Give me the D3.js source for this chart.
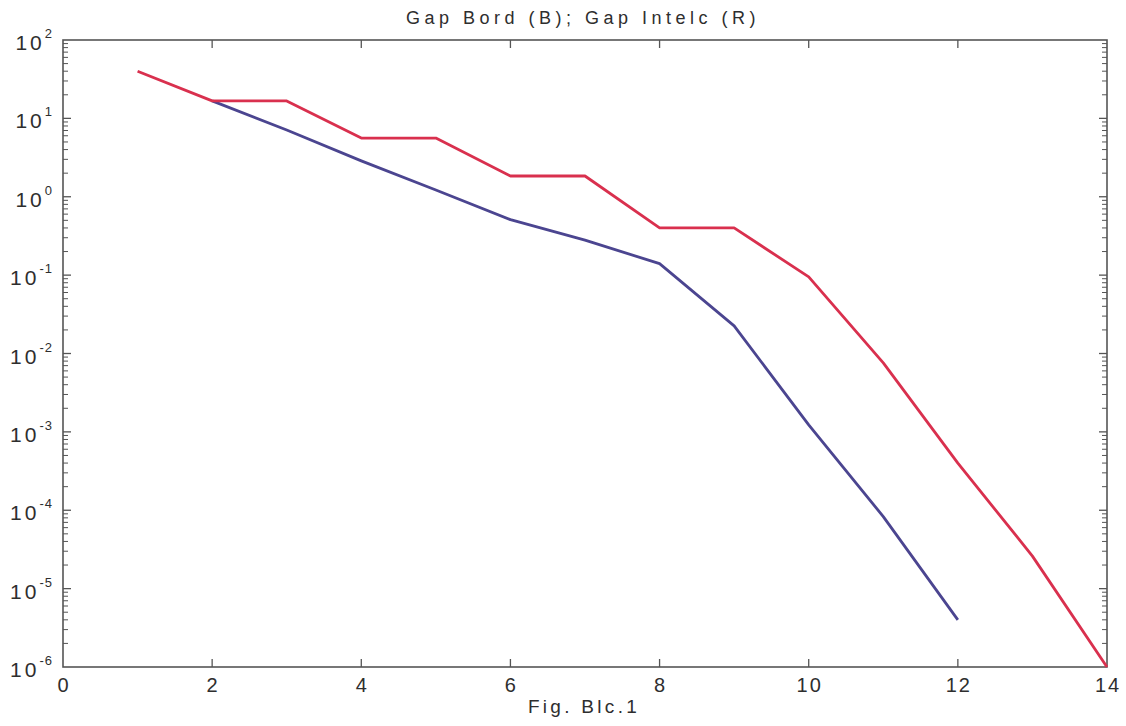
<!DOCTYPE html>
<html><head><meta charset="utf-8">
<script src="https://cdn.jsdelivr.net/npm/d3@7"></script>
<style>
body{margin:0;background:#fff;}
text{font-family:"Liberation Sans",Arial,sans-serif;fill:#2e2e2e;}
</style></head>
<body><svg id="c" width="1126" height="726"></svg>
<script>
const title = "Gap Bord (B); Gap Intelc (R)";
const xLabel = "Fig. Blc.1";
const xTicks = [0,2,4,6,8,10,12,14];
const yExponents = [2,1,0,-1,-2,-3,-4,-5,-6];
const redX = [1,2,3,4,5,6,7,8,9,10,11,12,13,14];
const redY = [40,16.7,16.7,5.6,5.6,1.84,1.84,0.40,0.40,0.095,0.0076,4e-4,2.6e-5,1e-6];
const blueX = [2,3,4,5,6,7,8,9,10,11,12];
const blueY = [16.7,7.1,2.87,1.22,0.51,0.28,0.14,0.0225,0.00123,8.3e-5,4e-6];

const L=63,R=1107,T=40,B=667;
const svg=d3.select("#c");
const x=d3.scaleLinear().domain([0,14]).range([L,R]);
const y=d3.scaleLog().domain([1e-6,1e2]).range([B,T]);
const ax="#555";

svg.append("rect").attr("x",L).attr("y",T).attr("width",R-L).attr("height",B-T)
  .attr("fill","none").attr("stroke",ax).attr("stroke-width",1.6);

const g=svg.append("g");
xTicks.forEach(v=>{
  if(v>0&&v<14){
    g.append("line").attr("x1",x(v)).attr("x2",x(v)).attr("y1",B).attr("y2",B-8).attr("stroke",ax).attr("stroke-width",1.3);
    g.append("line").attr("x1",x(v)).attr("x2",x(v)).attr("y1",T).attr("y2",T+8).attr("stroke",ax).attr("stroke-width",1.3);
  }
  g.append("text").attr("x",x(v)+1).attr("y",B+25).attr("text-anchor","middle")
   .attr("font-size",20).attr("letter-spacing",2).text(v);
});
yExponents.forEach(e=>{
  const v=Math.pow(10,e);
  if(e>-6&&e<2){
    g.append("line").attr("x1",L).attr("x2",L+8).attr("y1",y(v)).attr("y2",y(v)).attr("stroke",ax).attr("stroke-width",1.3);
    g.append("line").attr("x1",R).attr("x2",R-8).attr("y1",y(v)).attr("y2",y(v)).attr("stroke",ax).attr("stroke-width",1.3);
  }
  if(e>-6){
    for(let m=2;m<=9;m++){
      const vv=m*Math.pow(10,e-1);
      g.append("line").attr("x1",L).attr("x2",L+5).attr("y1",y(vv)).attr("y2",y(vv)).attr("stroke",ax).attr("stroke-width",1);
      g.append("line").attr("x1",R).attr("x2",R-5).attr("y1",y(vv)).attr("y2",y(vv)).attr("stroke",ax).attr("stroke-width",1);
    }
  }
  const t=g.append("text").attr("x",L-10).attr("y",y(v)+10).attr("text-anchor","end").attr("font-size",21);
  t.append("tspan").attr("letter-spacing",3).text("10");
  t.append("tspan").attr("dy",-12).attr("font-size",13).attr("letter-spacing",1).text(e);
});

const line=d3.line().x(d=>x(d[0])).y(d=>y(d[1]));
svg.append("path").datum(blueX.map((v,i)=>[v,blueY[i]])).attr("d",line)
  .attr("fill","none").attr("stroke","#4b4590").attr("stroke-width",2.8).attr("stroke-linejoin","round");
svg.append("path").datum(redX.map((v,i)=>[v,redY[i]])).attr("d",line)
  .attr("fill","none").attr("stroke","#d9304e").attr("stroke-width",2.8).attr("stroke-linejoin","round");

svg.append("text").attr("x",(L+R)/2-2).attr("y",24).attr("text-anchor","middle")
  .attr("font-size",18).attr("letter-spacing",4.5).text(title);
svg.append("text").attr("x",(L+R)/2-1).attr("y",713).attr("text-anchor","middle")
  .attr("font-size",19).attr("letter-spacing",3.3).text(xLabel);
</script></body></html>
